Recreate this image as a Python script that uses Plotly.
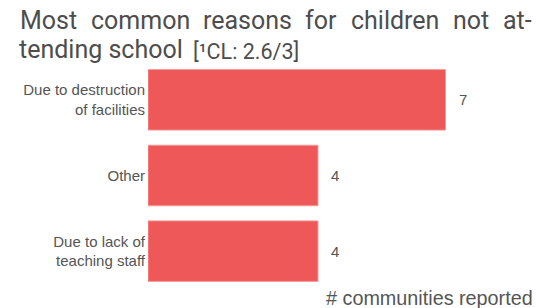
import plotly.graph_objects as go

categories = ["Due to destruction<br>of facilities", "Other", "Due to lack of<br>teaching staff"]
values = [7, 4, 4]
axis_title = "# communities reported"
title_line1 = ["Most", "common", "reasons", "for", "children", "not", "at-"]
title_line1_x = [19, 90, 202, 304, 350, 452, 502]
title_line2 = "tending school"
title_note = "[¹CL: 2.6/3]"

BAR = "#EE5859"
GREY = "#555555"
TCOL = "#4d4d4d"
TFONT = "Roboto, sans-serif"
LFONT = "Liberation Sans, Arial, sans-serif"

W, H = 536, 308
ml, mr, mt, mb = 148, 0, 62, 19
pw = W - ml - mr
ph = H - mt - mb
xmax = pw / 42.5


def px(sx):
    return (sx - ml) / pw


def py(sy):
    return (H - mb - sy) / ph


fig = go.Figure()
fig.add_trace(go.Bar(
    x=values, y=categories, orientation="h",
    marker=dict(color=BAR, line=dict(color="#F49A9A", width=1)),
    hoverinfo="skip",
))

for v, c in zip(values, categories):
    fig.add_annotation(x=v, y=c, text=str(v), showarrow=False, xanchor="left",
                       xshift=11, font=dict(family=LFONT, size=15, color=GREY))

for w, xp in zip(title_line1, title_line1_x):
    fig.add_annotation(x=px(xp), y=py(20.5), xref="paper", yref="paper", text=w, showarrow=False,
                       xanchor="left", yanchor="middle", xshift=-1,
                       font=dict(family=TFONT, size=25, color=TCOL))
fig.add_annotation(x=px(18), y=py(49), xref="paper", yref="paper", text=title_line2, showarrow=False,
                   xanchor="left", yanchor="middle", xshift=-1,
                   font=dict(family=TFONT, size=25, color=TCOL))
fig.add_annotation(x=px(192), y=py(51), xref="paper", yref="paper", text=title_note, showarrow=False,
                   xanchor="left", yanchor="middle", xshift=-1,
                   font=dict(family=TFONT, size=21.5, color=TCOL))
fig.add_annotation(x=px(535), y=py(298), xref="paper", yref="paper", text=axis_title,
                   showarrow=False, xanchor="right", yanchor="middle",
                   font=dict(family=LFONT, size=19.8, color=GREY))

fig.update_layout(
    width=W, height=H,
    margin=dict(l=ml, r=mr, t=mt, b=mb, autoexpand=False),
    paper_bgcolor="white", plot_bgcolor="white",
    bargap=0.2, showlegend=False,
    xaxis=dict(range=[0, xmax], visible=False, fixedrange=True),
    yaxis=dict(autorange="reversed", showgrid=False, showline=False, ticks="",
               tickfont=dict(family=LFONT, size=15, color=GREY),
               ticklabelstandoff=2, fixedrange=True),
)
fig.write_html("out.html", config={"displayModeBar": False},
               post_script="document.body.style.margin='0';document.body.style.overflow='hidden';")
